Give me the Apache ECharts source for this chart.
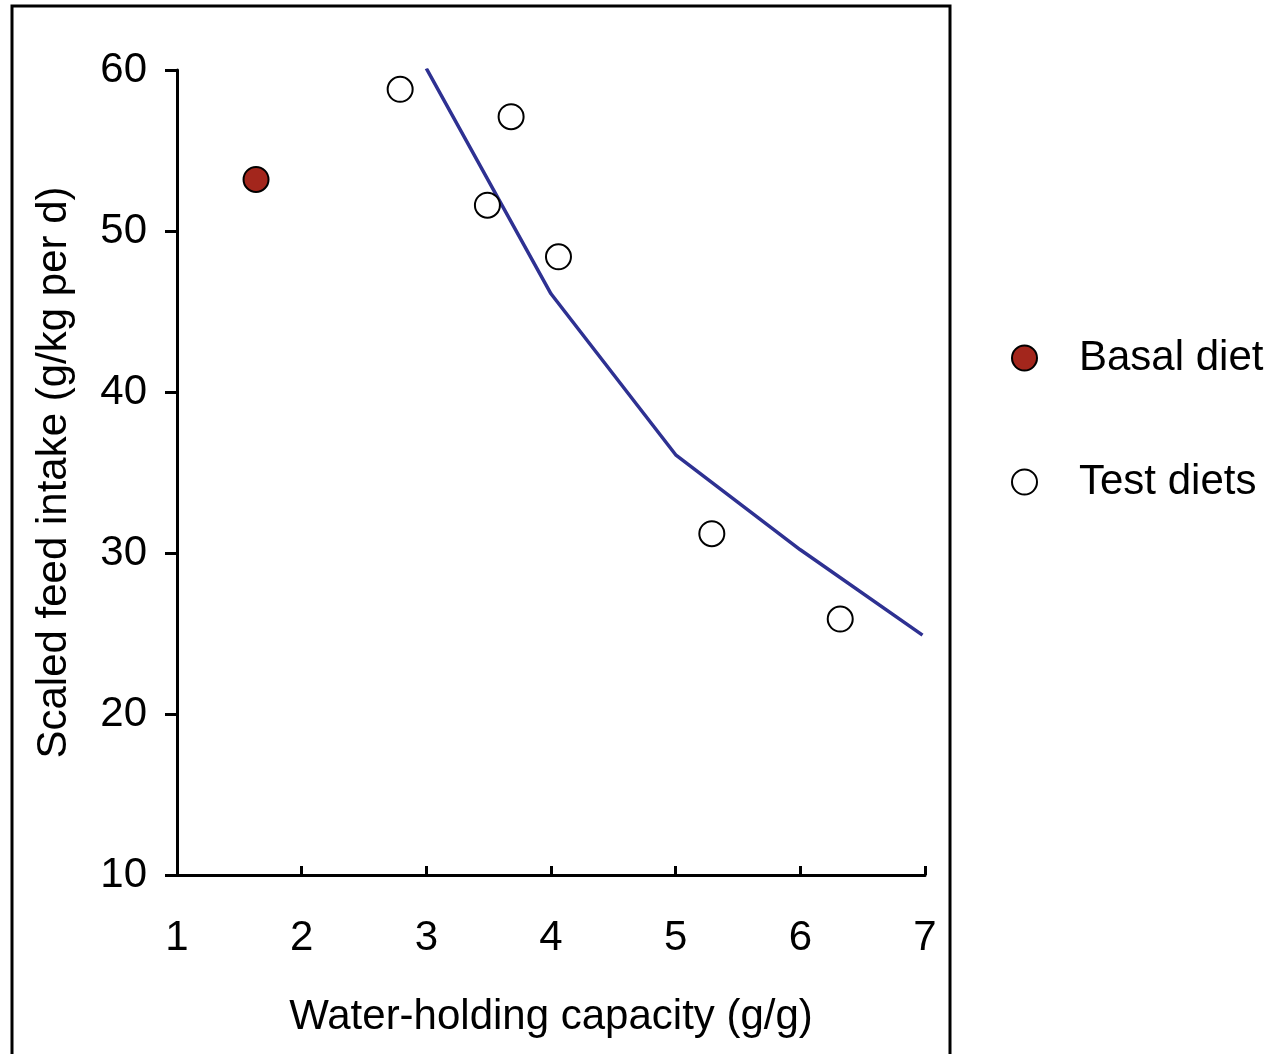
<!DOCTYPE html>
<html>
<head>
<meta charset="utf-8">
<script src="https://cdn.jsdelivr.net/npm/echarts@6/dist/echarts.min.js"></script>
<style>
html,body{margin:0;padding:0;background:#fff;}
#chart{width:1281px;height:1054px;}
</style>
</head>
<body>
<div id="chart"></div>
<script>
// Data
const basalDiet = [[1.634, 53.2]];
const testDiets = [[2.79, 58.8], [3.68, 57.1], [3.49, 51.6], [4.06, 48.4], [5.29, 31.2], [6.32, 25.9]];
const fittedLine = [[3, 60.1], [4, 46.1], [5, 36.1], [6, 30.2], [6.98, 24.9]];
const xTicks = [1, 2, 3, 4, 5, 6, 7];
const yTicks = [10, 20, 30, 40, 50, 60];

const FONT = '"Liberation Sans", Arial, sans-serif';
const chart = echarts.init(document.getElementById('chart'), null, {renderer: 'canvas'});
chart.setOption({
  backgroundColor: '#ffffff',
  animation: false,
  graphic: [{
    type: 'rect',
    shape: {x: 12, y: 6, width: 938, height: 1100},
    style: {fill: 'none', stroke: '#000', lineWidth: 3},
    silent: true
  }],
  grid: {left: 177, right: 356, top: 70, bottom: 179, containLabel: false},
  legend: {
    orient: 'vertical',
    left: 1006,
    top: 331,
    itemWidth: 25,
    itemHeight: 25,
    itemGap: 80,
    icon: 'circle',
    data: ['Basal diet', 'Test diets'],
    textStyle: {fontFamily: FONT, fontSize: 42, color: '#000', lineHeight: 44, padding: [0, 0, 0, 37]}
  },
  xAxis: {
    type: 'value',
    min: xTicks[0],
    max: xTicks[xTicks.length - 1],
    interval: 1,
    name: 'Water-holding capacity (g/g)',
    nameLocation: 'middle',
    nameGap: 121,
    nameTextStyle: {fontFamily: FONT, fontSize: 42, color: '#000'},
    axisLine: {lineStyle: {color: '#000', width: 3}},
    axisTick: {inside: true, length: 9, lineStyle: {color: '#000', width: 3}},
    axisLabel: {fontFamily: FONT, fontSize: 42, color: '#000', margin: 42},
    splitLine: {show: false}
  },
  yAxis: {
    type: 'value',
    min: yTicks[0],
    max: yTicks[yTicks.length - 1],
    interval: 10,
    name: 'Scaled feed intake (g/kg per d)',
    nameLocation: 'middle',
    nameGap: 102,
    nameTextStyle: {fontFamily: FONT, fontSize: 42, color: '#000'},
    axisLine: {show: true, lineStyle: {color: '#000', width: 3}},
    axisTick: {show: true, inside: false, length: 12, lineStyle: {color: '#000', width: 3}},
    axisLabel: {fontFamily: FONT, fontSize: 42, color: '#000', margin: 30},
    splitLine: {show: false}
  },
  series: [
    {
      name: 'Fit',
      type: 'line',
      data: fittedLine,
      showSymbol: false,
      lineStyle: {color: '#2e3192', width: 3.5},
      z: 1
    },
    {
      name: 'Basal diet',
      type: 'scatter',
      data: basalDiet,
      symbol: 'circle',
      symbolSize: 25,
      itemStyle: {color: '#a3261c', borderColor: '#000', borderWidth: 2, opacity: 1},
      z: 3
    },
    {
      name: 'Test diets',
      type: 'scatter',
      data: testDiets,
      symbol: 'circle',
      symbolSize: 25,
      itemStyle: {color: '#ffffff', borderColor: '#000', borderWidth: 2, opacity: 1},
      z: 3
    }
  ]
});
</script>
</body>
</html>
